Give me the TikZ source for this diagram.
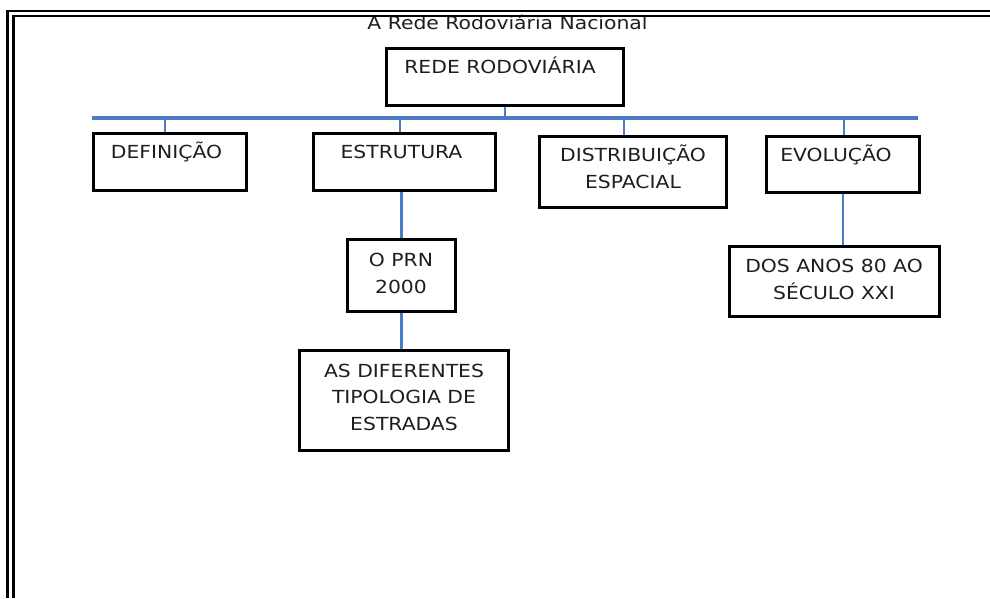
\documentclass[tikz,border=0pt]{standalone}
\usepackage{fontspec}
\setmainfont{DejaVu Sans}[FakeStretch=1.13]
\usepackage{xcolor}
\definecolor{Ink}{HTML}{1E1E1E}
\definecolor{BusBlue}{HTML}{4A7CC2}

\begin{document}
\begin{tikzpicture}[x=1pt,y=-1pt,
  box/.style 2 args={draw=black, line width=3.3pt, inner sep=0pt, minimum width=#1, minimum height=#2},
  boxtext/.style={anchor=base, text=Ink, align=center, inner sep=0pt, font=\fontsize{18}{26.5}\selectfont},
  bus/.style={BusBlue, line width=3.5pt},
  link/.style={BusBlue, line width=2.5pt}]
\useasboundingbox[fill=white] (0,0) rectangle (990,598);
\node[boxtext] (title) at (507.5,29) {A Rede Rodoviária Nacional};
% double frame
\draw[line width=3.4pt] (7.5,598) -- (7.5,9.7);
\draw[line width=2.6pt] (5.8,11) -- (990,11);
\draw[line width=3.4pt] (13.5,598) -- (13.5,14.7);
\draw[line width=2.6pt] (11.8,16) -- (990,16);
% boxes
\node[box={237pt}{57pt}] (root) at (505,77) {};
\node[box={153pt}{57pt}] (def) at (170,162) {};
\node[box={182pt}{57pt}] (est) at (404.5,162) {};
\node[box={187pt}{71pt}] (dist) at (633,172) {};
\node[box={153pt}{56pt}] (evol) at (843,164.5) {};
\node[box={108pt}{72pt}] (prn) at (401.5,275.5) {};
\node[box={210pt}{70pt}] (dos) at (834.5,281.5) {};
\node[box={209pt}{100pt}] (dif) at (404,400.5) {};
% texts (base = last line)
\node[boxtext] (root-t) at (500,73) {REDE RODOVIÁRIA};
\node[boxtext] (def-t) at (166.5,158) {DEFINIÇÃO};
\node[boxtext] (est-t) at (401.5,158) {ESTRUTURA};
\node[boxtext] (dist-t) at (633,188) {DISTRIBUIÇÃO\\ESPACIAL};
\node[boxtext] (evol-t) at (836,161) {EVOLUÇÃO};
\node[boxtext] (prn-t) at (401,293) {O PRN\\2000};
\node[boxtext] (dos-t) at (834,299) {DOS ANOS 80 AO\\SÉCULO XXI};
\node[boxtext] (dif-t) at (404,430) {AS DIFERENTES\\TIPOLOGIA DE\\ESTRADAS};
% connectors
\coordinate (busW) at (92,118);
\coordinate (busE) at (918,118);
\draw[bus] (busW) -- (busE);
\draw[link] (root.south) -- (root.south |- busW);
\coordinate (drop-def) at (165,118);
\coordinate (drop-est) at (400,118);
\coordinate (drop-dist) at (624,118);
\coordinate (drop-evol) at (844,118);
\draw[link] (drop-def) -- (drop-def |- def.north);
\draw[link] (drop-est) -- (drop-est |- est.north);
\draw[link] (drop-dist) -- (drop-dist |- dist.north);
\draw[link] (drop-evol) -- (drop-evol |- evol.north);
\draw[link] (est.south -| prn.north) -- (prn.north);
\draw[link] (prn.south) -- (prn.south |- dif.north);
\draw[link] (evol.south) -- (evol.south |- dos.north);
\end{tikzpicture}
\end{document}
